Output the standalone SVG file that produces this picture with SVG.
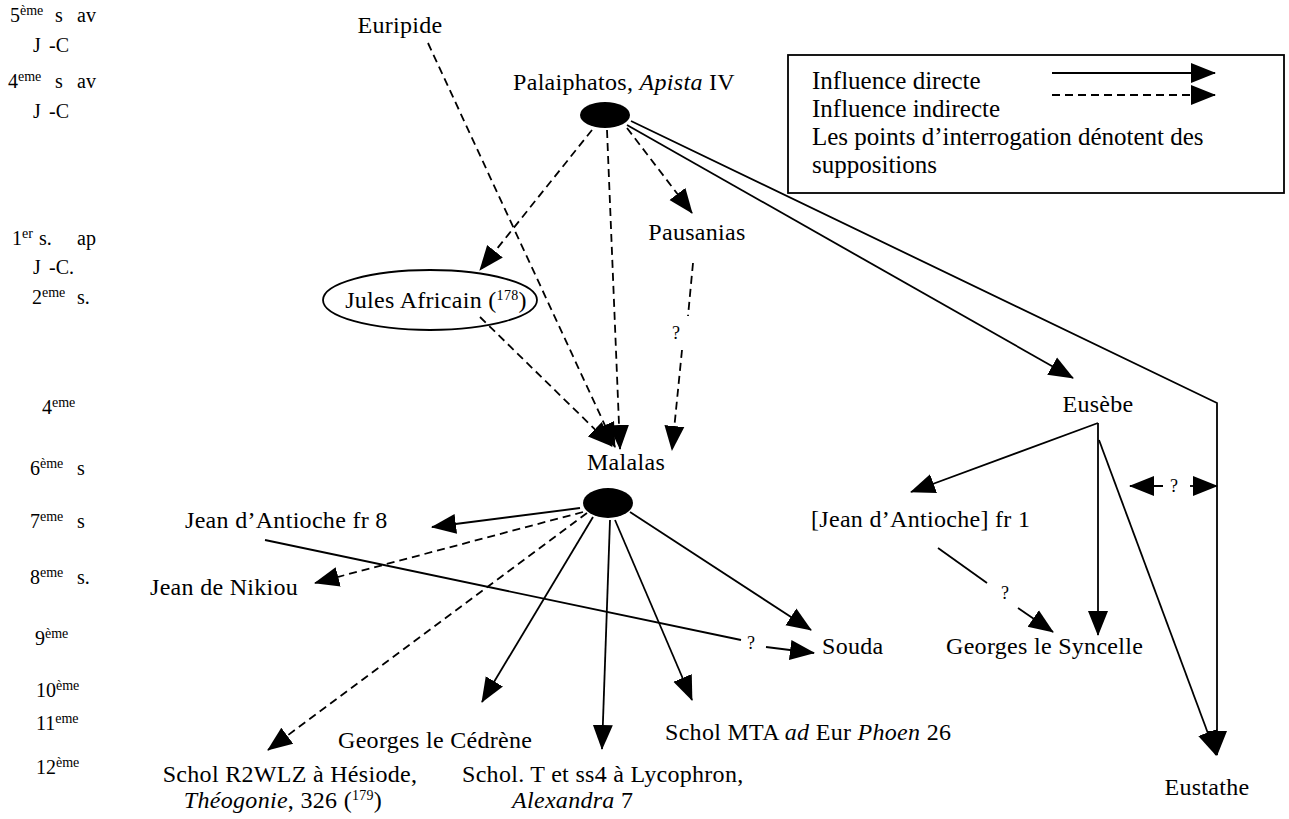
<svg xmlns="http://www.w3.org/2000/svg" width="1289" height="819" viewBox="0 0 1289 819">
<defs>
<style>
text{font-family:"Liberation Serif","Times New Roman",serif;fill:#000}
.n{font-size:24px;letter-spacing:0.3px}
.t{font-size:20px}
.lg{font-size:25px}
.sup{font-size:14px}
.q{font-size:18px}
.s{fill:none;stroke:#000;stroke-width:1.8}
.d{fill:none;stroke:#000;stroke-width:1.8;stroke-dasharray:8 5}
.ah{marker-end:url(#arr)}
</style>
<marker id="arr" markerUnits="userSpaceOnUse" markerWidth="26" markerHeight="22" viewBox="0 0 26 22" refX="24" refY="11" orient="auto">
<path d="M0,1 L25,11 L0,21 Z" fill="#000"/>
</marker>
</defs>
<rect width="1289" height="819" fill="#fff"/>

<g id="timeline">
<text class="t" y="22"><tspan x="10">5</tspan><tspan class="sup" dy="-7">ème</tspan><tspan x="55" dy="7">s</tspan><tspan x="77">av</tspan></text>
<text class="t" y="52"><tspan x="33">J</tspan><tspan x="49">-C</tspan></text>
<text class="t" y="88"><tspan x="8">4</tspan><tspan class="sup" dy="-7">eme</tspan><tspan x="55" dy="7">s</tspan><tspan x="77">av</tspan></text>
<text class="t" y="118"><tspan x="33">J</tspan><tspan x="49">-C</tspan></text>
<text class="t" y="245"><tspan x="12">1</tspan><tspan class="sup" dy="-7">er</tspan><tspan x="39" dy="7">s.</tspan><tspan x="77">ap</tspan></text>
<text class="t" y="274"><tspan x="33">J</tspan><tspan x="49">-C.</tspan></text>
<text class="t" y="304"><tspan x="32">2</tspan><tspan class="sup" dy="-7">eme</tspan><tspan x="77" dy="7">s.</tspan></text>
<text class="t" y="414"><tspan x="42">4</tspan><tspan class="sup" dy="-7">eme</tspan></text>
<text class="t" y="475"><tspan x="30">6</tspan><tspan class="sup" dy="-7">ème</tspan><tspan x="77" dy="7">s</tspan></text>
<text class="t" y="528"><tspan x="30">7</tspan><tspan class="sup" dy="-7">eme</tspan><tspan x="77" dy="7">s</tspan></text>
<text class="t" y="584"><tspan x="30">8</tspan><tspan class="sup" dy="-7">eme</tspan><tspan x="77" dy="7">s.</tspan></text>
<text class="t" y="645"><tspan x="35">9</tspan><tspan class="sup" dy="-7">ème</tspan></text>
<text class="t" y="697"><tspan x="36">10</tspan><tspan class="sup" dy="-7">ème</tspan></text>
<text class="t" y="730"><tspan x="36">11</tspan><tspan class="sup" dy="-7">eme</tspan></text>
<text class="t" y="774"><tspan x="36">12</tspan><tspan class="sup" dy="-7">ème</tspan></text>
</g>

<g id="legend">
<rect x="788" y="55" width="496" height="138" fill="none" stroke="#000" stroke-width="1.8"/>
<text class="lg" x="812" y="89">Influence directe</text>
<text class="lg" x="812" y="117">Influence indirecte</text>
<text class="lg" x="812" y="145">Les points d’interrogation dénotent des</text>
<text class="lg" x="812" y="173">suppositions</text>
<line class="s ah" x1="1052" y1="73" x2="1215" y2="73"/>
<line class="d ah" x1="1052" y1="95" x2="1215" y2="95"/>
</g>

<g id="connectors">
<line class="d ah" x1="428" y1="43" x2="615" y2="447"/>
<line class="d ah" x1="592" y1="130" x2="480" y2="270"/>
<line class="d ah" x1="607" y1="130" x2="620" y2="449"/>
<line class="d ah" x1="627" y1="128" x2="692" y2="213"/>
<line class="d" x1="693" y1="263" x2="688" y2="316"/>
<text class="q" x="672" y="339">?</text>
<line class="d ah" x1="682" y1="350" x2="672" y2="450"/>
<line class="d ah" x1="480" y1="317" x2="612" y2="446"/>
<line class="d ah" x1="583" y1="512" x2="315" y2="583"/>
<line class="d ah" x1="587" y1="513" x2="268" y2="750"/>
<line class="s ah" x1="627" y1="125" x2="1073" y2="378"/>
<polyline class="s ah" points="631,121 1217,403 1217,755"/>
<line class="s ah" x1="1098" y1="423" x2="911" y2="492"/>
<line class="s ah" x1="1098" y1="423" x2="1098" y2="635"/>
<line class="s ah" x1="1099" y1="440" x2="1216" y2="755"/>
<line class="s ah" x1="580" y1="508" x2="432" y2="527"/>
<line class="s ah" x1="593" y1="517" x2="482" y2="702"/>
<line class="s ah" x1="610" y1="520" x2="602" y2="749"/>
<line class="s ah" x1="615" y1="520" x2="692" y2="700"/>
<line class="s ah" x1="630" y1="512" x2="811" y2="630"/>
<line class="s" x1="265" y1="540" x2="741" y2="640"/>
<text class="q" x="747" y="649">?</text>
<line class="s ah" x1="766" y1="647" x2="814" y2="653"/>
<line class="s" x1="938" y1="548" x2="987" y2="583"/>
<text class="q" x="1001" y="599">?</text>
<line class="s ah" x1="1018" y1="608" x2="1053" y2="632"/>
<line class="s ah" x1="1163" y1="486" x2="1130" y2="486"/>
<text class="q" x="1170" y="492">?</text>
<line class="s ah" x1="1190" y1="486" x2="1217" y2="486"/>
</g>

<g id="n-euripide"><text class="n" x="400" y="33" text-anchor="middle">Euripide</text></g>
<g id="n-palaiphatos">
<text class="n" x="624" y="90" text-anchor="middle">Palaiphatos, <tspan font-style="italic">Apista</tspan> IV</text>
<ellipse cx="605" cy="115" rx="25" ry="13" fill="#000"/>
</g>
<g id="n-pausanias"><text class="n" x="697" y="240" text-anchor="middle">Pausanias</text></g>
<g id="n-jules">
<ellipse cx="430" cy="300" rx="107" ry="30" fill="none" stroke="#000" stroke-width="1.8"/>
<text class="n" x="436" y="308" text-anchor="middle">Jules Africain (<tspan font-size="14" dy="-8">178</tspan><tspan dy="8">)</tspan></text>
</g>
<g id="n-malalas">
<text class="n" x="626" y="470" text-anchor="middle">Malalas</text>
<ellipse cx="608" cy="503" rx="25" ry="15" fill="#000"/>
</g>
<g id="n-jean8"><text class="n" x="185" y="528">Jean d’Antioche fr  8</text></g>
<g id="n-nikiou"><text class="n" x="150" y="595">Jean de Nikiou</text></g>
<g id="n-souda"><text class="n" x="822" y="654">Souda</text></g>
<g id="n-cedrene"><text class="n" x="338" y="748">Georges le Cédrène</text></g>
<g id="n-mta"><text class="n" x="665" y="740">Schol  MTA <tspan font-style="italic">ad</tspan> Eur  <tspan font-style="italic">Phoen</tspan>  26</text></g>
<g id="n-r2wlz">
<text class="n" x="290" y="782" text-anchor="middle">Schol  R2WLZ à Hésiode,</text>
<text class="n" x="283" y="808" text-anchor="middle"><tspan font-style="italic">Théogonie</tspan>, 326 (<tspan font-size="14" dy="-8">179</tspan><tspan dy="8">)</tspan></text>
</g>
<g id="n-scholt">
<text class="n" x="462" y="782">Schol. T et ss4 à Lycophron,</text>
<text class="n" x="512" y="808"><tspan font-style="italic">Alexandra</tspan> 7</text>
</g>
<g id="n-eusebe"><text class="n" x="1098" y="412" text-anchor="middle">Eusèbe</text></g>
<g id="n-jean1"><text class="n" x="811" y="527">[Jean d’Antioche] fr  1</text></g>
<g id="n-syncelle"><text class="n" x="946" y="654">Georges le Syncelle</text></g>
<g id="n-eustathe"><text class="n" x="1207" y="795" text-anchor="middle">Eustathe</text></g>
</svg>
